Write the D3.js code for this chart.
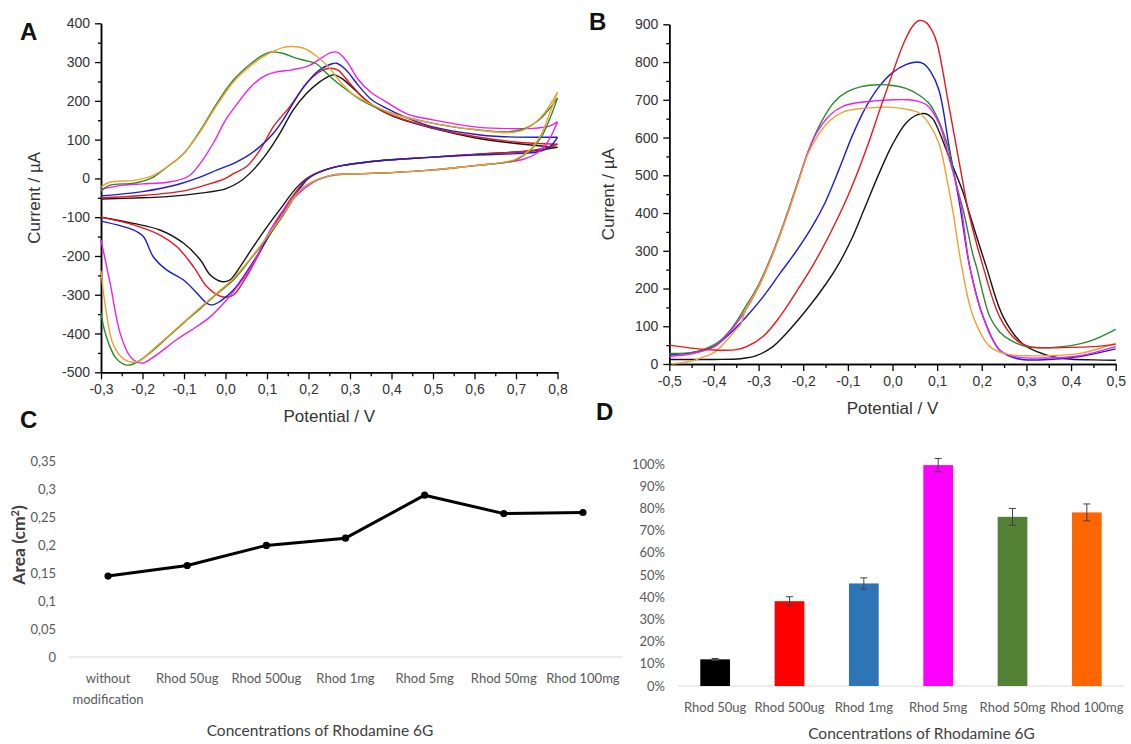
<!DOCTYPE html>
<html><head><meta charset="utf-8">
<script src="https://cdn.jsdelivr.net/npm/d3@7"></script>
<style>body{margin:0;background:#fff}svg{display:block}</style>
</head><body>
<svg id="chart" width="1131" height="744"></svg>
<script>
// ---------------- DATA ----------------
// Panel A: cyclic voltammograms, [potential V, current µA]; forward (-0.3 -> 0.8) and reverse (0.8 -> -0.3)
const cvBlackFwd = [[-0.3,-53],[-0.2,-50],[-0.14,-47],[-0.06,-38],[0.0,-27],[0.035,-8],[0.067,22],[0.1,65],[0.131,116],[0.163,176],[0.195,219],[0.227,249],[0.25,264],[0.262,267],[0.28,258],[0.31,230],[0.35,192],[0.4,162],[0.5,129],[0.6,105],[0.7,90],[0.8,80]];
const cvBlackRev = [[0.8,80],[0.75,72],[0.7,68],[0.6,62],[0.5,55],[0.4,48],[0.34,42],[0.28,33],[0.24,22],[0.2,3],[0.17,-25],[0.139,-69],[0.1,-125],[0.067,-176],[0.035,-228],[0.01,-262],[-0.01,-266],[-0.036,-250],[-0.06,-211],[-0.1,-168],[-0.158,-133],[-0.222,-116],[-0.3,-100]];
const cvRedFwd = [[-0.3,-50],[-0.2,-44],[-0.1,-32],[-0.06,-21],[0.0,0],[0.02,13],[0.05,30],[0.083,73],[0.115,133],[0.155,185],[0.195,245],[0.227,275],[0.25,284],[0.27,280],[0.3,245],[0.34,200],[0.38,172],[0.45,145],[0.5,130],[0.6,108],[0.7,94],[0.8,88]];
const cvRedRev = [[0.8,88],[0.75,74],[0.7,68],[0.6,62],[0.5,55],[0.4,48],[0.34,42],[0.28,33],[0.24,22],[0.2,2],[0.155,-56],[0.13,-99],[0.09,-176],[0.05,-254],[0.02,-300],[0.003,-306],[-0.015,-303],[-0.045,-279],[-0.077,-228],[-0.117,-176],[-0.158,-146],[-0.222,-120],[-0.3,-100]];
const cvBlueFwd = [[-0.3,-45],[-0.2,-34],[-0.12,-17],[-0.06,4],[-0.02,22],[0.02,39],[0.05,56],[0.083,82],[0.115,116],[0.139,151],[0.163,194],[0.195,245],[0.227,280],[0.255,295],[0.268,297],[0.29,280],[0.32,240],[0.35,205],[0.38,185],[0.44,155],[0.5,133],[0.6,114],[0.66,108],[0.8,106]];
const cvBlueRev = [[0.8,106],[0.78,80],[0.75,68],[0.7,64],[0.6,60],[0.5,55],[0.4,48],[0.34,42],[0.28,33],[0.24,22],[0.2,0],[0.17,-40],[0.139,-90],[0.099,-159],[0.059,-228],[0.019,-288],[-0.013,-317],[-0.03,-326],[-0.045,-322],[-0.061,-305],[-0.101,-262],[-0.142,-236],[-0.174,-202],[-0.198,-150],[-0.222,-133],[-0.3,-110]];
const cvMagentaFwd = [[-0.3,-28],[-0.25,-18],[-0.2,-14],[-0.14,-10],[-0.09,5],[-0.06,40],[-0.03,90],[0.0,150],[0.03,195],[0.06,235],[0.09,262],[0.12,274],[0.16,280],[0.2,290],[0.23,310],[0.255,325],[0.27,325],[0.29,305],[0.32,255],[0.35,222],[0.38,202],[0.44,165],[0.5,151],[0.6,133],[0.66,129],[0.74,129],[0.78,135],[0.8,146]];
const cvMagentaRev = [[0.8,146],[0.785,110],[0.77,85],[0.75,65],[0.72,50],[0.68,42],[0.6,33],[0.5,22],[0.4,15],[0.32,12],[0.26,8],[0.22,-5],[0.18,-35],[0.139,-82],[0.099,-150],[0.067,-219],[0.035,-270],[0.003,-313],[-0.037,-357],[-0.069,-382],[-0.118,-416],[-0.166,-455],[-0.198,-476],[-0.214,-473],[-0.23,-459],[-0.254,-399],[-0.278,-270],[-0.3,-159]];
const cvGreenFwd = [[-0.3,-33],[-0.28,-18],[-0.22,-12],[-0.18,0],[-0.14,30],[-0.1,65],[-0.06,125],[-0.02,195],[0.02,255],[0.06,295],[0.09,318],[0.11,326],[0.14,322],[0.17,310],[0.2,302],[0.22,295],[0.24,275],[0.26,255],[0.29,230],[0.33,200],[0.4,168],[0.5,142],[0.6,126],[0.68,120],[0.72,128],[0.76,155],[0.8,207]];
const cvGreenRev = [[0.8,207],[0.78,150],[0.76,105],[0.735,73],[0.7,48],[0.66,39],[0.6,33],[0.5,22],[0.4,15],[0.32,12],[0.26,9],[0.22,-4],[0.18,-30],[0.139,-95],[0.099,-155],[0.059,-210],[0.019,-262],[-0.021,-298],[-0.061,-336],[-0.1,-372],[-0.142,-412],[-0.18,-448],[-0.21,-472],[-0.23,-481],[-0.246,-479],[-0.265,-462],[-0.28,-430],[-0.292,-390],[-0.3,-348]];
const cvOrangeFwd = [[-0.3,-22],[-0.28,-10],[-0.22,-5],[-0.18,5],[-0.14,30],[-0.1,65],[-0.06,122],[-0.02,190],[0.02,250],[0.06,290],[0.1,320],[0.14,338],[0.16,340],[0.19,335],[0.22,315],[0.25,285],[0.28,245],[0.31,215],[0.35,192],[0.4,168],[0.5,142],[0.6,126],[0.68,118],[0.72,126],[0.76,158],[0.8,222]];
const cvOrangeRev = [[0.8,222],[0.78,165],[0.76,112],[0.735,75],[0.7,50],[0.66,40],[0.6,33],[0.5,22],[0.4,15],[0.32,12],[0.26,9],[0.22,-4],[0.18,-30],[0.139,-92],[0.099,-152],[0.059,-208],[0.019,-258],[-0.021,-296],[-0.061,-333],[-0.1,-370],[-0.142,-410],[-0.18,-446],[-0.206,-470],[-0.225,-474],[-0.245,-466],[-0.27,-430],[-0.288,-340],[-0.3,-238]];

// Panel B: differential pulse voltammograms, [potential V, current µA]
const dpvBlack = [[-0.5,12],[-0.4,12],[-0.34,14],[-0.305,22],[-0.268,46],[-0.238,81],[-0.193,143],[-0.148,214],[-0.12,266],[-0.09,335],[-0.06,420],[-0.03,505],[0.0,582],[0.03,638],[0.055,660],[0.075,663],[0.09,650],[0.1,628],[0.128,545],[0.158,455],[0.172,400],[0.21,258],[0.248,125],[0.292,53],[0.337,27],[0.389,14],[0.45,11],[0.5,10]];
const dpvRed = [[-0.5,50],[-0.45,42],[-0.4,37],[-0.35,38],[-0.327,46],[-0.29,73],[-0.252,126],[-0.215,192],[-0.178,262],[-0.14,345],[-0.1,445],[-0.06,565],[-0.03,668],[0.0,770],[0.025,850],[0.045,895],[0.06,910],[0.075,905],[0.09,880],[0.1,849],[0.128,673],[0.158,479],[0.169,410],[0.203,258],[0.24,125],[0.277,64],[0.307,46],[0.4,44],[0.45,46],[0.5,52]];
const dpvBlue = [[-0.5,24],[-0.45,30],[-0.4,46],[-0.364,81],[-0.327,126],[-0.29,178],[-0.252,240],[-0.215,300],[-0.178,368],[-0.15,430],[-0.12,515],[-0.09,605],[-0.06,680],[-0.03,735],[0.0,772],[0.03,793],[0.055,800],[0.07,795],[0.085,775],[0.104,726],[0.128,567],[0.15,426],[0.173,258],[0.203,125],[0.24,37],[0.28,14],[0.35,12],[0.42,20],[0.5,40]];
const dpvMagenta = [[-0.5,20],[-0.45,27],[-0.4,45],[-0.37,78],[-0.34,122],[-0.3,205],[-0.27,287],[-0.24,382],[-0.21,488],[-0.19,560],[-0.17,612],[-0.14,660],[-0.11,683],[-0.08,692],[-0.04,697],[0.0,700],[0.037,700],[0.06,695],[0.077,686],[0.104,638],[0.128,540],[0.151,435],[0.173,258],[0.203,125],[0.24,37],[0.277,19],[0.35,16],[0.42,22],[0.5,46]];
const dpvGreen = [[-0.5,28],[-0.45,30],[-0.42,40],[-0.39,58],[-0.36,95],[-0.33,150],[-0.3,210],[-0.27,290],[-0.24,385],[-0.21,490],[-0.19,560],[-0.16,640],[-0.13,695],[-0.1,722],[-0.07,735],[-0.03,740],[0.0,738],[0.03,730],[0.06,712],[0.08,693],[0.092,673],[0.122,585],[0.144,470],[0.158,410],[0.18,290],[0.188,258],[0.218,125],[0.24,85],[0.263,64],[0.3,46],[0.38,46],[0.44,60],[0.5,92]];
const dpvOrange = [[-0.495,0],[-0.45,8],[-0.42,20],[-0.4,30],[-0.37,64],[-0.35,92],[-0.34,105],[-0.33,140],[-0.3,205],[-0.27,285],[-0.24,380],[-0.21,485],[-0.19,555],[-0.17,600],[-0.14,645],[-0.11,668],[-0.07,677],[-0.03,680],[0.0,680],[0.04,673],[0.06,665],[0.081,638],[0.104,585],[0.125,470],[0.136,400],[0.155,258],[0.181,125],[0.218,46],[0.256,26],[0.3,22],[0.35,22],[0.42,28],[0.5,55]];

// Panel A/B tick values
const cvPotTicks = [-0.3,-0.2,-0.1,0.0,0.1,0.2,0.3,0.4,0.5,0.6,0.7,0.8];
const cvCurTicks = [-500,-400,-300,-200,-100,0,100,200,300,400];
const dpvPotTicks = [-0.5,-0.4,-0.3,-0.2,-0.1,0.0,0.1,0.2,0.3,0.4,0.5];
const dpvCurTicks = [0,100,200,300,400,500,600,700,800,900];

// Panel C: electroactive area
const areaCategories = ["without modification","Rhod 50ug","Rhod 500ug","Rhod 1mg","Rhod 5mg","Rhod 50mg","Rhod 100mg"];
const areaValues = [0.145,0.164,0.200,0.213,0.290,0.257,0.259];
const areaTicks = [0,0.05,0.1,0.15,0.2,0.25,0.3,0.35];

// Panel D: relative signal
const barCategories = ["Rhod 50ug","Rhod 500ug","Rhod 1mg","Rhod 5mg","Rhod 50mg","Rhod 100mg"];
const barValues = [0.12,0.382,0.462,0.995,0.762,0.782];
const barErrors = [0.004,0.02,0.025,0.03,0.038,0.038];
const barTicks = [0,0.1,0.2,0.3,0.4,0.5,0.6,0.7,0.8,0.9,1.0];

// ---------------- STYLE ----------------
const lineColors = {black:"#141414", red:"#e8181e", blue:"#1c1cd6", magenta:"#f01ef0", green:"#2a8a2a", orange:"#f0a030"};
const barColors = ["#000000","#ff0000","#2e75b6","#ff00ff","#548235","#ff6600"];
const FONT_AB = "'Liberation Sans', Arial, Helvetica, sans-serif";
const FONT_CD = "Lato, 'Open Sans', sans-serif";

const svg = d3.select("#chart");
const loc = d3.formatLocale({decimal:",", thousands:".", grouping:[3], currency:["",""], minus:"-"});
const f1 = loc.format(".1f"), f0 = loc.format("d"), fg = loc.format("~g"), fp = loc.format(".0%");

function styleAxis(g, fs, font, color){
  g.select(".domain").attr("stroke","#000").attr("stroke-width",1.5);
  g.selectAll(".tick line").attr("stroke","#000").attr("stroke-width",1.3);
  g.selectAll(".tick text").attr("font-size",fs).attr("font-family",font).attr("fill",color);
}

function drawElectroPanel(x, y, xTicks, yTicks, xFmt, yFmt, xAxisAt, series, xTitle, yTitleX){
  const g = svg.append("g");
  const [x0,x1] = x.range();
  const minorX = xTicks.slice(0,-1).map((d,i)=> (d + xTicks[i+1])/2);
  const minorY = yTicks.slice(0,-1).map((d,i)=> (d + yTicks[i+1])/2);
  const gx = g.append("g").attr("transform",`translate(0,${y(xAxisAt)})`)
    .call(d3.axisBottom(x).tickValues(xTicks).tickFormat(xFmt).tickSize(7).tickPadding(5).tickSizeOuter(0));
  styleAxis(gx,14,FONT_AB,"#333");
  const gxm = g.append("g").attr("transform",`translate(0,${y(xAxisAt)})`)
    .call(d3.axisBottom(x).tickValues(minorX).tickFormat("").tickSize(4).tickSizeOuter(0));
  styleAxis(gxm,14,FONT_AB,"#333");
  const gy = g.append("g").attr("transform",`translate(${x0},0)`)
    .call(d3.axisLeft(y).tickValues(yTicks).tickFormat(yFmt).tickSize(6).tickPadding(5).tickSizeOuter(0));
  styleAxis(gy,14,FONT_AB,"#333");
  const gym = g.append("g").attr("transform",`translate(${x0},0)`)
    .call(d3.axisLeft(y).tickValues(minorY).tickFormat("").tickSize(3).tickSizeOuter(0));
  styleAxis(gym,14,FONT_AB,"#333");

  const line = d3.line().x(d=>x(d[0])).y(d=>y(d[1])).curve(d3.curveCatmullRom.alpha(0.5));
  series.forEach(s=>{
    g.append("path").datum(s.data).attr("d",line).attr("fill","none")
      .attr("stroke",s.color).attr("stroke-width",1.4).attr("stroke-linejoin","round");
  });
  const [yb,yt] = y.range();
  g.append("text").attr("x",(x0+x1)/2).attr("y",yb+50).attr("text-anchor","middle")
    .attr("font-family",FONT_AB).attr("font-size",17).attr("fill","#333").text(xTitle);
  g.append("text").attr("transform",`translate(${yTitleX},${(yb+yt)/2}) rotate(-90)`)
    .attr("text-anchor","middle").attr("dy","0.35em")
    .attr("font-family",FONT_AB).attr("font-size",17).attr("fill","#333").text("Current / µA");
}

// Panel A
const xA = d3.scaleLinear([-0.3,0.8],[101,557.5]);
const yA = d3.scaleLinear([-500,400],[372.3,23.3]);
drawElectroPanel(xA,yA,cvPotTicks,cvCurTicks,f1,f0,-500,[
  {data:cvBlackFwd,color:lineColors.black},{data:cvBlackRev,color:lineColors.black},
  {data:cvRedFwd,color:lineColors.red},{data:cvRedRev,color:lineColors.red},
  {data:cvBlueFwd,color:lineColors.blue},{data:cvBlueRev,color:lineColors.blue},
  {data:cvMagentaFwd,color:lineColors.magenta},{data:cvMagentaRev,color:lineColors.magenta},
  {data:cvGreenFwd,color:lineColors.green},{data:cvGreenRev,color:lineColors.green},
  {data:cvOrangeFwd,color:lineColors.orange},{data:cvOrangeRev,color:lineColors.orange}
],"Potential / V",34);

// Panel B
const xB = d3.scaleLinear([-0.5,0.5],[669.3,1115.7]);
const yB = d3.scaleLinear([0,900],[364,24.3]);
drawElectroPanel(xB,yB,dpvPotTicks,dpvCurTicks,f1,f0,0,[
  {data:dpvBlack,color:lineColors.black},
  {data:dpvBlue,color:lineColors.blue},
  {data:dpvGreen,color:lineColors.green},
  {data:dpvMagenta,color:lineColors.magenta},
  {data:dpvOrange,color:lineColors.orange},
  {data:dpvRed,color:lineColors.red}
],"Potential / V",608);

// Panel C
(function(){
  const g = svg.append("g");
  const x = d3.scalePoint(areaCategories,[68.5,622.5]).padding(0.5);
  const y = d3.scaleLinear([0,0.35],[657,461.7]);
  g.append("line").attr("x1",68.5).attr("x2",622.5).attr("y1",y(0)).attr("y2",y(0))
    .attr("stroke","#d9d9d9").attr("stroke-width",1);
  g.selectAll(".yl").data(areaTicks).join("text").attr("x",56).attr("y",d=>y(d)).attr("dy","0.35em")
    .attr("text-anchor","end").attr("font-family",FONT_CD).attr("font-size",13).attr("fill","#595959").text(d=>fg(d));
  const step = x.step();
  areaCategories.forEach(c=>{
    const t = g.append("text").attr("x",x(c)).attr("y",683).attr("text-anchor","middle")
      .attr("font-family",FONT_CD).attr("font-size",13).attr("fill","#595959").text(c);
    if (t.node().getComputedTextLength() > step*0.98){
      const words = c.split(" ");
      t.text(null);
      words.forEach((w,i)=> t.append("tspan").attr("x",x(c)).attr("dy",i? "1.6em":0).text(w));
    }
  });
  const pts = areaCategories.map((c,i)=>[x(c), y(areaValues[i])]);
  g.append("path").datum(pts).attr("d",d3.line()).attr("fill","none").attr("stroke","#000")
    .attr("stroke-width",3).attr("stroke-linejoin","round");
  g.selectAll(".pt").data(pts).join("circle").attr("cx",d=>d[0]).attr("cy",d=>d[1]).attr("r",3.6).attr("fill","#000");
  g.append("text").attr("x",320).attr("y",736).attr("text-anchor","middle").attr("font-family",FONT_CD)
    .attr("font-size",15.5).attr("fill","#404040").text("Concentrations of Rhodamine 6G");
  const at = g.append("text").attr("transform","translate(19,545) rotate(-90)").attr("text-anchor","middle")
    .attr("dy","0.35em").attr("font-family",FONT_CD).attr("font-size",17.5).attr("font-weight","bold").attr("fill","#404040");
  at.append("tspan").text("Area (cm");
  at.append("tspan").attr("font-size",11).attr("dy","-0.6em").text("2");
  at.append("tspan").attr("dy","0.38em").text(")");
})();

// Panel D
(function(){
  const g = svg.append("g");
  const x = d3.scaleBand(barCategories,[678,1124]).paddingInner(0.6).paddingOuter(0.3);
  const y = d3.scaleLinear([0,1],[686,464]);
  g.append("line").attr("x1",678).attr("x2",1124).attr("y1",y(0)).attr("y2",y(0))
    .attr("stroke","#d9d9d9").attr("stroke-width",1);
  g.selectAll(".yl").data(barTicks).join("text").attr("x",665).attr("y",d=>y(d)).attr("dy","0.35em")
    .attr("text-anchor","end").attr("font-family",FONT_CD).attr("font-size",13).attr("fill","#595959").text(d=>fp(d));
  g.selectAll(".bar").data(barValues).join("rect")
    .attr("x",(d,i)=>x(barCategories[i])).attr("width",x.bandwidth())
    .attr("y",d=>y(d)).attr("height",d=>y(0)-y(d)).attr("fill",(d,i)=>barColors[i]);
  barValues.forEach((v,i)=>{
    const cx = x(barCategories[i]) + x.bandwidth()/2, e = barErrors[i];
    g.append("line").attr("x1",cx).attr("x2",cx).attr("y1",y(v-e)).attr("y2",y(v+e)).attr("stroke","#404040").attr("stroke-width",1);
    [v-e,v+e].forEach(b=> g.append("line").attr("x1",cx-3.5).attr("x2",cx+3.5).attr("y1",y(b)).attr("y2",y(b)).attr("stroke","#404040").attr("stroke-width",1));
  });
  g.selectAll(".xl").data(barCategories).join("text").attr("x",d=>x(d)+x.bandwidth()/2).attr("y",712)
    .attr("text-anchor","middle").attr("font-family",FONT_CD).attr("font-size",13).attr("fill","#595959").text(d=>d);
  g.append("text").attr("x",921.5).attr("y",739).attr("text-anchor","middle").attr("font-family",FONT_CD)
    .attr("font-size",15.5).attr("fill","#404040").text("Concentrations of Rhodamine 6G");
})();

// Panel letters
[["A",20,40],["B",589,30],["C",20,428],["D",596,420]].forEach(([t,x,y])=>{
  svg.append("text").attr("x",x).attr("y",y).attr("font-family",FONT_AB).attr("font-weight","bold")
    .attr("font-size",24).attr("fill","#111").text(t);
});
</script>
</body></html>
